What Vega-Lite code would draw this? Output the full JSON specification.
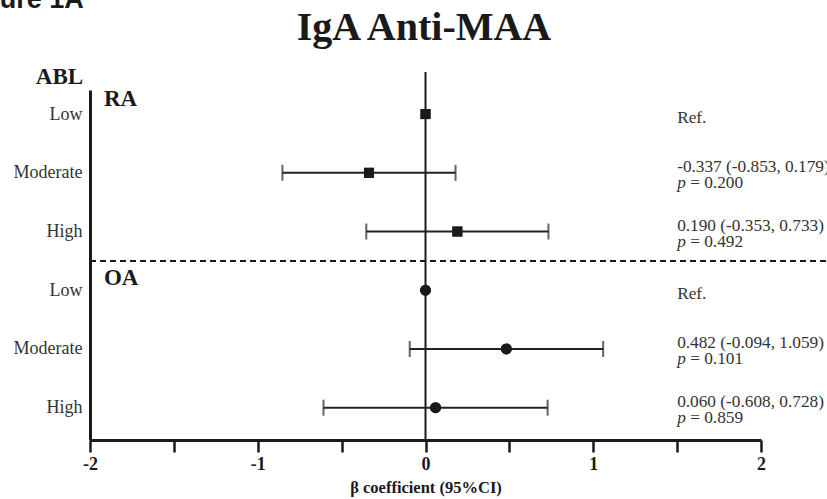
{
  "$schema": "https://vega.github.io/schema/vega-lite/v6.json",
  "autosize": {"type": "none"},
  "width": 671,
  "height": 350,
  "padding": {"left": 90, "top": 90, "right": 66, "bottom": 59},
  "background": "white",
  "config": {"view": {"stroke": null}, "font": "Liberation Serif"},
  "datasets": {
    "rows": [
      {"grp": "RA", "level": "Low", "row": 1, "est": 0, "lo": null, "hi": null, "ci": "Ref.", "p": null},
      {"grp": "RA", "level": "Moderate", "row": 2, "est": -0.337, "lo": -0.853, "hi": 0.179, "ci": "-0.337 (-0.853, 0.179)", "p": "= 0.200"},
      {"grp": "RA", "level": "High", "row": 3, "est": 0.19, "lo": -0.353, "hi": 0.733, "ci": "0.190 (-0.353, 0.733)", "p": "= 0.492"},
      {"grp": "OA", "level": "Low", "row": 4, "est": 0, "lo": null, "hi": null, "ci": "Ref.", "p": null},
      {"grp": "OA", "level": "Moderate", "row": 5, "est": 0.482, "lo": -0.094, "hi": 1.059, "ci": "0.482 (-0.094, 1.059)", "p": "= 0.101"},
      {"grp": "OA", "level": "High", "row": 6, "est": 0.06, "lo": -0.608, "hi": 0.728, "ci": "0.060 (-0.608, 0.728)", "p": "= 0.859"}
    ],
    "labels": [
      {"name": "title", "txt": "IgA Anti-MAA"},
      {"name": "fig", "txt": "Figure 1A"},
      {"name": "RA", "txt": "RA"},
      {"name": "OA", "txt": "OA"}
    ]
  },
  "data": {"name": "rows"},
  "layer": [
    {
      "mark": {"type": "point", "filled": true, "color": "#1a1a1a", "opacity": 1},
      "encoding": {
        "x": {"field": "est", "type": "quantitative", "scale": {"domain": [-2, 2], "nice": false, "zero": false},
          "axis": {
            "values": [-2, -1.5, -1, -0.5, 0, 0.5, 1, 1.5, 2],
            "labelExpr": "datum.value % 1 == 0 ? datum.value : ''",
            "labelFlush": false,
            "title": "β coefficient (95%CI)", "titleFont": "Liberation Serif", "titleFontSize": 16.5, "titleFontWeight": "bold", "titleColor": "#1a1a1a", "titlePadding": 6,
            "labelFont": "Liberation Serif", "labelFontSize": 18, "labelFontWeight": "bold", "labelColor": "#1a1a1a", "labelPadding": 3,
            "domainWidth": 3, "domainColor": "#1a1a1a", "tickSize": 12, "tickWidth": 2.5, "tickColor": "#1a1a1a", "grid": false
          }},
        "y": {
          "field": "row", "type": "quantitative",
          "scale": {"domain": [0.59, 6.55], "reverse": true, "nice": false, "zero": false},
          "axis": {
            "values": [1, 2, 3, 4, 5, 6],
            "labelExpr": "['Low','Moderate','High','Low','Moderate','High'][datum.value - 1]",
            "title": "ABL", "titleAngle": 0, "titleX": -31, "titleY": -7, "titleAlign": "center", "titleBaseline": "alphabetic",
            "titleFont": "Liberation Serif", "titleFontSize": 23, "titleFontWeight": "bold", "titleColor": "#1a1a1a",
            "domainWidth": 3, "domainColor": "#1a1a1a", "ticks": false, "grid": false,
            "labelPadding": 8, "labelFont": "Liberation Serif", "labelFontSize": 18, "labelColor": "#333333"
          }
        },
        "shape": {"field": "grp", "type": "nominal", "scale": {"domain": ["RA", "OA"], "range": ["square", "circle"]}, "legend": null},
        "size": {"field": "grp", "type": "nominal", "scale": {"domain": ["RA", "OA"], "range": [100, 120]}, "legend": null}
      }
    },
    {
      "data": {"values": [{"k": 1}]},
      "mark": {"type": "rule", "color": "#1a1a1a", "strokeWidth": 2},
      "encoding": {"x": {"datum": 0, "type": "quantitative"}, "y": {"datum": 0.285, "type": "quantitative"}, "y2": {"datum": 6.55}}
    },
    {
      "data": {"values": [{"k": 1}]},
      "mark": {"type": "rule", "color": "#1a1a1a", "strokeWidth": 2, "strokeDash": [6, 4]},
      "encoding": {"x": {"datum": -2, "type": "quantitative"}, "x2": {"datum": 2.4}, "y": {"datum": 3.5, "type": "quantitative"}}
    },
    {
      "transform": [{"filter": "datum.lo != null"}],
      "mark": {"type": "rule", "color": "#222222", "strokeWidth": 2},
      "encoding": {
        "x": {"field": "lo", "type": "quantitative"},
        "x2": {"field": "hi"},
        "y": {"field": "row", "type": "quantitative"}
      }
    },
    {
      "transform": [{"filter": "datum.lo != null"}],
      "mark": {"type": "tick", "orient": "vertical", "color": "#222222", "thickness": 2, "size": 16},
      "encoding": {"x": {"field": "lo", "type": "quantitative"}, "y": {"field": "row", "type": "quantitative"}}
    },
    {
      "transform": [{"filter": "datum.lo != null"}],
      "mark": {"type": "tick", "orient": "vertical", "color": "#222222", "thickness": 2, "size": 16},
      "encoding": {"x": {"field": "hi", "type": "quantitative"}, "y": {"field": "row", "type": "quantitative"}}
    },
    {
      "mark": {"type": "point", "filled": true, "color": "#1a1a1a", "opacity": 1},
      "encoding": {
        "x": {"field": "est", "type": "quantitative"},
        "y": {"field": "row", "type": "quantitative"},
        "shape": {"field": "grp", "type": "nominal", "legend": null},
        "size": {"field": "grp", "type": "nominal", "legend": null}
      }
    },
    {
      "transform": [{"filter": "datum.p != null"}],
      "mark": {"type": "text", "align": "left", "baseline": "middle", "font": "Liberation Serif", "fontSize": 17.3, "color": "#333333", "dy": -6},
      "encoding": {"x": {"datum": 1.5, "type": "quantitative"}, "y": {"field": "row", "type": "quantitative"}, "text": {"field": "ci"}}
    },
    {
      "transform": [{"filter": "datum.p == null"}],
      "mark": {"type": "text", "align": "left", "baseline": "middle", "font": "Liberation Serif", "fontSize": 17.3, "color": "#333333", "dy": 4},
      "encoding": {"x": {"datum": 1.5, "type": "quantitative"}, "y": {"field": "row", "type": "quantitative"}, "text": {"field": "ci"}}
    },
    {
      "transform": [{"filter": "datum.p != null"}],
      "mark": {"type": "text", "align": "left", "baseline": "middle", "font": "Liberation Serif", "fontSize": 17.3, "fontStyle": "italic", "color": "#333333", "dy": 10},
      "encoding": {"x": {"datum": 1.5, "type": "quantitative"}, "y": {"field": "row", "type": "quantitative"}, "text": {"value": "p"}}
    },
    {
      "transform": [{"filter": "datum.p != null"}],
      "mark": {"type": "text", "align": "left", "baseline": "middle", "font": "Liberation Serif", "fontSize": 17.3, "color": "#333333", "dy": 10, "dx": 13},
      "encoding": {"x": {"datum": 1.5, "type": "quantitative"}, "y": {"field": "row", "type": "quantitative"}, "text": {"field": "p"}}
    },
    {
      "data": {"name": "labels"},
      "transform": [{"filter": "datum.name == 'title'"}],
      "mark": {"type": "text", "align": "center", "baseline": "alphabetic", "font": "Liberation Serif", "fontSize": 40, "fontWeight": "bold", "color": "#1a1a1a"},
      "encoding": {"x": {"datum": -0.009, "type": "quantitative"}, "y": {"datum": -0.26, "type": "quantitative"}, "text": {"field": "txt"}}
    },
    {
      "data": {"name": "labels"},
      "transform": [{"filter": "datum.name == 'RA'"}],
      "mark": {"type": "text", "align": "left", "baseline": "alphabetic", "font": "Liberation Serif", "fontSize": 23, "fontWeight": "bold", "color": "#1a1a1a"},
      "encoding": {"x": {"datum": -1.917, "type": "quantitative"}, "y": {"datum": 0.863, "type": "quantitative"}, "text": {"field": "txt"}}
    },
    {
      "data": {"name": "labels"},
      "transform": [{"filter": "datum.name == 'OA'"}],
      "mark": {"type": "text", "align": "left", "baseline": "alphabetic", "font": "Liberation Serif", "fontSize": 23, "fontWeight": "bold", "color": "#1a1a1a"},
      "encoding": {"x": {"datum": -1.917, "type": "quantitative"}, "y": {"datum": 3.909, "type": "quantitative"}, "text": {"field": "txt"}}
    },
    {
      "data": {"name": "labels"},
      "transform": [{"filter": "datum.name == 'fig'"}],
      "mark": {"type": "text", "align": "left", "baseline": "alphabetic", "font": "Liberation Sans", "fontSize": 27, "fontWeight": "bold", "color": "#1a1a1a"},
      "encoding": {"x": {"datum": -2.78, "type": "quantitative"}, "y": {"datum": -0.804, "type": "quantitative"}, "text": {"field": "txt"}}
    }
  ]
}
